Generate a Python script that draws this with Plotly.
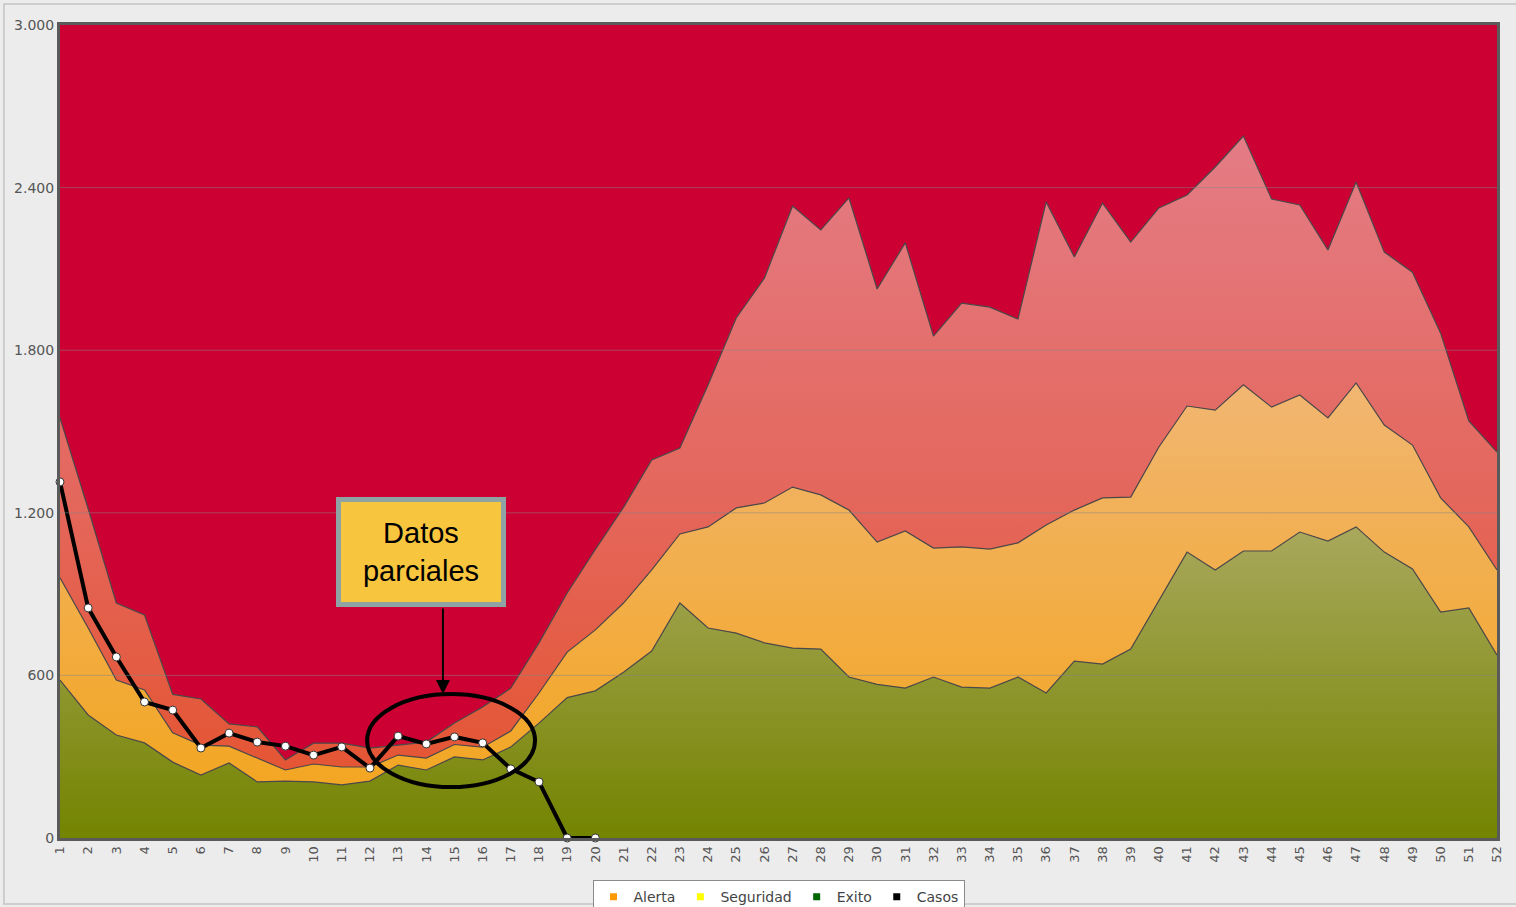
import plotly.graph_objects as go

# ---------------- data ----------------
weeks = list(range(1, 53))

exito = [583, 454, 380, 351, 280, 232, 277, 207, 210, 207, 196, 210, 269, 251, 299, 288,
         336, 424, 518, 543, 612, 690, 867, 775, 756, 720, 701, 697, 594, 567, 553, 594,
         557, 553, 594, 535, 653, 642, 697, 878, 1055, 989, 1059, 1059, 1129, 1096, 1148,
         1055, 993, 834, 849, 675]

seguridad = [960, 775, 583, 546, 388, 343, 339, 295, 251, 273, 262, 262, 306, 295, 345, 335,
             395, 535, 686, 768, 867, 989, 1122, 1148, 1218, 1236, 1295, 1266, 1210, 1092,
             1133, 1070, 1074, 1066, 1089, 1155, 1210, 1255, 1258, 1443, 1594, 1579, 1672,
             1590, 1635, 1550, 1679, 1524, 1450, 1255, 1148, 989]

alerta = [1550, 1215, 867, 823, 530, 513, 421, 410, 288, 350, 350, 332, 343, 354, 424, 483,
          553, 720, 904, 1065, 1220, 1395, 1439, 1672, 1919, 2066, 2332, 2244, 2362, 2026,
          2196, 1852, 1974, 1959, 1915, 2347, 2144, 2343, 2199, 2325, 2373, 2476, 2590, 2358,
          2336, 2170, 2421, 2162, 2088, 1863, 1539, 1424]

casos_weeks = list(range(1, 21))
casos = [1314, 849, 668, 502, 472, 332, 387, 354, 339, 306, 336, 258, 376, 347, 373, 351,
         255, 207, 0, 0]

y_ticks = [0, 600, 1200, 1800, 2400, 3000]
legend_names = ["Alerta", "Seguridad", "Exito", "Casos"]
legend_colors = ["#FF9900", "#FFFF00", "#006600", "#000000"]

# ---------------- figure ----------------
Y_MAX = y_ticks[-1]
edge = dict(color="#4a4a4a", width=1.2)

fig = go.Figure()

fig.add_trace(go.Scatter(
    x=weeks, y=exito, mode="lines", line=edge, fill="tozeroy",
    fillgradient=dict(type="vertical", start=0, stop=Y_MAX,
                      colorscale=[[0, "#738400"], [0.38, "#A9A85C"], [1, "#A9A85C"]]),
    showlegend=False, hoverinfo="skip"))

fig.add_trace(go.Scatter(
    x=weeks, y=seguridad, mode="lines", line=edge, fill="tonexty",
    fillgradient=dict(type="vertical", start=0, stop=Y_MAX,
                      colorscale=[[0, "#F3A418"], [0.56, "#F1B672"], [1, "#F1B672"]]),
    showlegend=False, hoverinfo="skip"))

fig.add_trace(go.Scatter(
    x=weeks, y=alerta, mode="lines", line=edge, fill="tonexty",
    fillgradient=dict(type="vertical", start=0, stop=Y_MAX,
                      colorscale=[[0, "#E4512A"], [0.4, "#E4665A"], [0.87, "#E47C86"],
                                  [1, "#E47C86"]]),
    showlegend=False, hoverinfo="skip"))

fig.add_trace(go.Scatter(
    x=casos_weeks, y=casos, mode="lines+markers",
    line=dict(color="black", width=4),
    marker=dict(color="white", size=8, line=dict(color="#333333", width=1)),
    cliponaxis=False, showlegend=False))

# legend entries
for name, col in zip(legend_names, legend_colors):
    fig.add_trace(go.Scatter(
        x=[None], y=[None], mode="markers", name=name,
        marker=dict(symbol="square", size=7, color=col)))

# gridlines drawn above the filled areas
for v in y_ticks[1:-1]:
    fig.add_shape(type="line", xref="paper", x0=0, x1=1, yref="y", y0=v, y1=v,
                  line=dict(color="rgba(135,135,135,0.5)", width=1), layer="above")

# ellipse around the partial data
fig.add_shape(type="circle", xref="x", yref="y", x0=11.9, x1=17.86, y0=188, y1=531,
              line=dict(color="black", width=4), layer="above")

# panel border
fig.add_shape(type="rect", xref="paper", yref="paper",
              x0=-0.039, x1=1.02, y0=-0.0812, y1=1.0258,
              line=dict(color="#C4C4C4", width=1.5), layer="above")

# "Datos parciales" box
fig.add_annotation(
    x=13.81, y=1055, xref="x", yref="y", text="Datos<br>parciales", showarrow=False,
    font=dict(family="Liberation Sans, Arial", size=29, color="black"),
    bgcolor="#F8C53E", bordercolor="#8FA2A4", borderwidth=5, borderpad=0,
    width=160, height=100, align="center", valign="middle")

# arrow
fig.add_annotation(
    x=14.59, y=531, ax=14.59, ay=852, xref="x", yref="y", axref="x", ayref="y",
    text="", showarrow=True, arrowhead=2, arrowsize=1.4, arrowwidth=2,
    arrowcolor="black", standoff=0)

fig.update_layout(
    width=1516, height=907, autosize=False,
    margin=dict(l=60, r=19, t=25, b=69, autoexpand=False),
    paper_bgcolor="#ECECEC", plot_bgcolor="#CC0033",
    separators=",.",
    font=dict(family="DejaVu Sans", color="#555555"),
    legend=dict(orientation="h", x=0.5, xanchor="center", y=-0.0517, yanchor="top",
                bgcolor="white", bordercolor="#8a8a8a", borderwidth=1,
                font=dict(family="DejaVu Sans", size=14, color="#444444"),
                traceorder="normal"),
    xaxis=dict(range=[1, 52], tickvals=weeks, ticktext=[str(w) for w in weeks],
               tickangle=-90, tickfont=dict(size=13, color="#555555"),
               showgrid=False, zeroline=False, showline=True, linewidth=3,
               linecolor="#5a5a5a", mirror=True, ticks="", automargin=False),
    yaxis=dict(range=[0, Y_MAX], tickvals=y_ticks, tickformat=",d",
               tickfont=dict(size=14, color="#555555"),
               showgrid=False, zeroline=False, showline=True, linewidth=3,
               linecolor="#5a5a5a", mirror=True, ticks="", automargin=False),
)

fig.write_html("out.html", config={"displayModeBar": False},
               post_script="document.body.style.margin='0';")
